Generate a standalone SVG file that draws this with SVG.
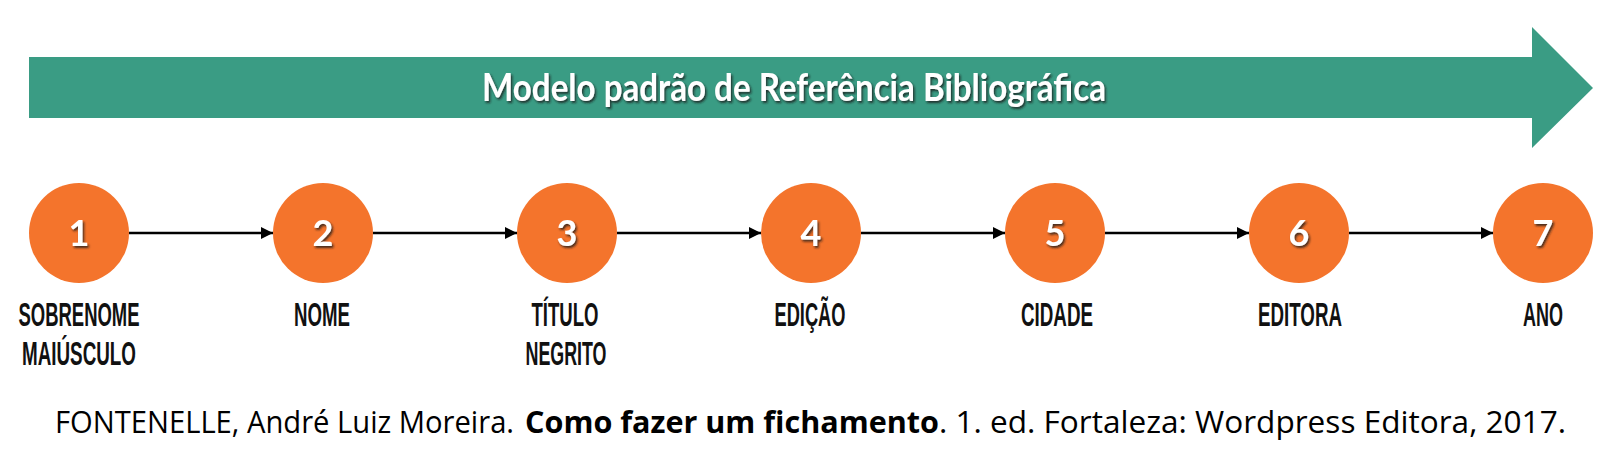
<svg xmlns="http://www.w3.org/2000/svg" width="1600" height="455" viewBox="0 0 1600 455">
  <defs>
    <marker id="arr" markerUnits="userSpaceOnUse" markerWidth="13" markerHeight="13" refX="12" refY="6" orient="auto">
      <path d="M0,0 L12,6 L0,12 z" fill="#000"/>
    </marker>
    <filter id="sh" x="-20%" y="-20%" width="140%" height="140%">
      <feDropShadow dx="1.5" dy="2" stdDeviation="1" flood-color="#1a1a1a" flood-opacity="0.8"/>
    </filter>
  </defs>
  <style>
    .circ { fill: #f4742c; }
    .num { font-family: "Lato", "Open Sans", sans-serif; font-weight: bold; font-size: 36px; fill: #ffffff; text-anchor: middle; filter: url(#sh); }
    .lbl { font-family: "Liberation Sans", Arial, sans-serif; font-weight: bold; font-size: 33px; fill: #111111; text-anchor: middle; }
    .conn { stroke: #000; stroke-width: 2.4; fill: none; marker-end: url(#arr); }
    .cit { font-family: "Open Sans", "Liberation Sans", sans-serif; font-size: 31px; fill: #000; }
  </style>
  <rect width="1600" height="455" fill="#ffffff"/>

  <g id="banner">
    <polygon points="29,57 1532,57 1532,27 1593,88 1532,148 1532,118 29,118" fill="#3a9c84"/>
    <text x="482" y="101" font-family="Lato, 'Open Sans', sans-serif" font-weight="bold" font-size="38" fill="#ffffff" textLength="624" lengthAdjust="spacingAndGlyphs" filter="url(#sh)">Modelo padrão de Referência Bibliográfica</text>
  </g>

  <g id="connectors">
    <line class="conn" x1="129" y1="233" x2="273" y2="233"/>
    <line class="conn" x1="373" y1="233" x2="517" y2="233"/>
    <line class="conn" x1="617" y1="233" x2="761" y2="233"/>
    <line class="conn" x1="861" y1="233" x2="1005" y2="233"/>
    <line class="conn" x1="1105" y1="233" x2="1249" y2="233"/>
    <line class="conn" x1="1349" y1="233" x2="1493" y2="233"/>
  </g>

  <g id="node1">
    <circle class="circ" cx="79" cy="233" r="50"/>
    <text class="num" x="79" y="246">1</text>
    <text class="lbl" x="79" y="326" textLength="121" lengthAdjust="spacingAndGlyphs">SOBRENOME</text>
    <text class="lbl" x="79" y="365" textLength="114" lengthAdjust="spacingAndGlyphs">MAIÚSCULO</text>
  </g>
  <g id="node2">
    <circle class="circ" cx="323" cy="233" r="50"/>
    <text class="num" x="323" y="246">2</text>
    <text class="lbl" x="322" y="326" textLength="56" lengthAdjust="spacingAndGlyphs">NOME</text>
  </g>
  <g id="node3">
    <circle class="circ" cx="567" cy="233" r="50"/>
    <text class="num" x="567" y="246">3</text>
    <text class="lbl" x="565" y="326" textLength="67" lengthAdjust="spacingAndGlyphs">TÍTULO</text>
    <text class="lbl" x="566" y="365" textLength="81" lengthAdjust="spacingAndGlyphs">NEGRITO</text>
  </g>
  <g id="node4">
    <circle class="circ" cx="811" cy="233" r="50"/>
    <text class="num" x="811" y="246">4</text>
    <text class="lbl" x="810" y="326" textLength="71" lengthAdjust="spacingAndGlyphs">EDIÇÃO</text>
  </g>
  <g id="node5">
    <circle class="circ" cx="1055" cy="233" r="50"/>
    <text class="num" x="1055" y="246">5</text>
    <text class="lbl" x="1057" y="326" textLength="72" lengthAdjust="spacingAndGlyphs">CIDADE</text>
  </g>
  <g id="node6">
    <circle class="circ" cx="1299" cy="233" r="50"/>
    <text class="num" x="1299" y="246">6</text>
    <text class="lbl" x="1300" y="326" textLength="84" lengthAdjust="spacingAndGlyphs">EDITORA</text>
  </g>
  <g id="node7">
    <circle class="circ" cx="1543" cy="233" r="50"/>
    <text class="num" x="1543" y="246">7</text>
    <text class="lbl" x="1543" y="326" textLength="40" lengthAdjust="spacingAndGlyphs">ANO</text>
  </g>

  <g id="citation">
    <text class="cit" x="55" y="433" textLength="459" lengthAdjust="spacingAndGlyphs">FONTENELLE, André Luiz Moreira.</text>
    <text class="cit" x="525" y="433" font-weight="bold" textLength="414" lengthAdjust="spacingAndGlyphs">Como fazer um fichamento</text>
    <text class="cit" x="939" y="433" textLength="627" lengthAdjust="spacingAndGlyphs">. 1. ed. Fortaleza: Wordpress Editora, 2017.</text>
  </g>
</svg>
